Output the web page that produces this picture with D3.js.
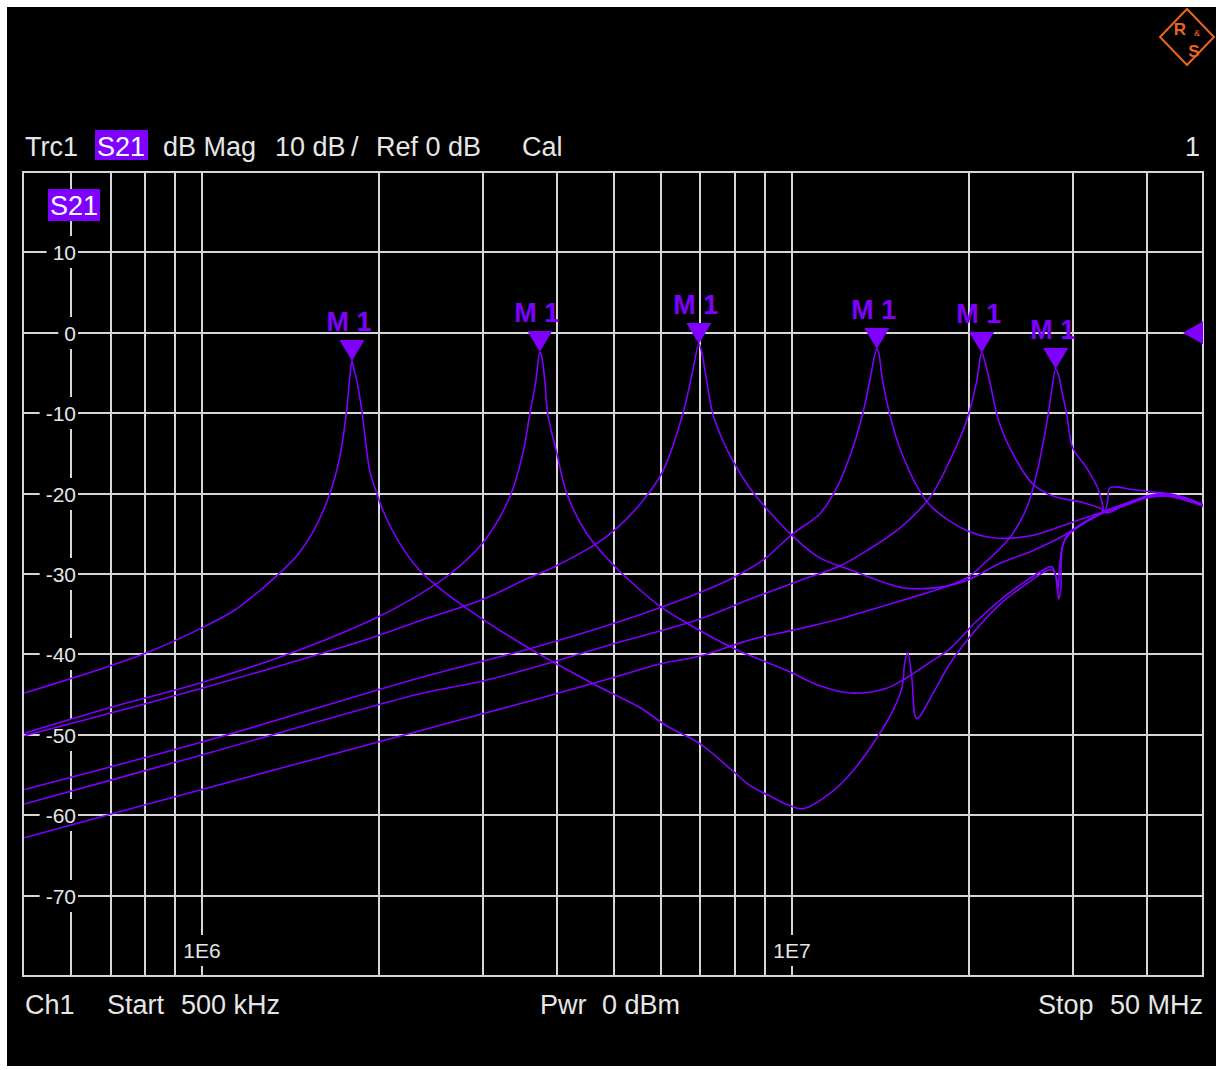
<!DOCTYPE html>
<html lang="en">
<head>
<meta charset="UTF-8">
<title>Trc1 S21 dB Mag</title>
<script src="https://d3js.org/d3.v7.min.js"></script>
<style>
  body { margin: 0; background: #fff; }
  svg { display: block; }
  text { font-family: "Liberation Sans", Arial, sans-serif; fill: #e6e6e6; }
</style>
</head>
<body>
<svg id="chart" width="1216" height="1070"></svg>
<script>
// frequencies in MHz, levels in dB
const trace1Freq = [0.5,0.6,0.7,0.8,1.0,1.13,1.2,1.34,1.45,1.542,1.648,1.713,1.761,1.782,1.796,1.81,1.831,1.867,1.926,1.98,2.027,2.165,2.342,2.502,2.96,3.597,3.997,4.673,5.526,6.141,6.985,7.943,8.489,9.286,9.922,10.44,11.74,12.69,13.94,14.84,15.37,15.55,15.73,15.98,16.29,17.34,18.53,20.43,22.51,25.02,27.05,27.7,28.13,28.35,28.57,28.8,29.59,33.27,36.68,39.97,43.2,46.4,50];
const trace1Db = [-44.8,-43.0,-41.4,-39.9,-36.7,-34.6,-33.2,-30.2,-27.7,-24.8,-20.0,-15.4,-9.4,-5.3,-3.5,-4.5,-6.0,-9.7,-17.2,-20.0,-22.1,-26.2,-29.6,-31.5,-35.4,-39.3,-41.2,-43.9,-46.6,-48.9,-51.1,-54.5,-56.3,-57.8,-58.8,-59.2,-57.0,-54.5,-50.4,-47.0,-44.2,-41.0,-39.8,-42.9,-48.0,-44.9,-41.2,-37.1,-33.8,-31.2,-29.6,-29.5,-30.6,-33.1,-32.1,-26.5,-25.0,-22.6,-21.4,-20.4,-20.1,-20.6,-21.5];

const trace2Freq = [0.5,0.7,1.0,1.372,1.98,2.342,2.633,2.995,3.327,3.5,3.597,3.682,3.74,3.77,3.814,3.858,3.997,4.156,4.493,4.914,5.252,5.973,6.637,7.943,9.806,11.16,12.54,14.49,15.66,17.14,18.53,20.43,22.51,25.02,26.84,27.59,28.02,28.24,28.69,29.37,33.27,36.68,39.97,43.2,46.4,50];
const trace2Db = [-49.8,-46.6,-43.5,-40.2,-35.4,-32.5,-30.0,-26.1,-20.4,-15.0,-10.1,-6.0,-2.4,-3.1,-6.0,-10.1,-15.0,-20.0,-25.0,-28.4,-30.5,-34.0,-36.1,-39.2,-42.0,-43.9,-44.8,-44.2,-42.9,-41.0,-39.3,-36.1,-33.3,-30.8,-29.4,-29.1,-30.2,-32.1,-26.9,-25.1,-22.5,-21.3,-20.3,-20.0,-20.5,-21.4];

const trace3Freq = [0.5,0.7,1.0,1.542,1.98,2.342,2.96,3.555,3.935,4.673,5.052,5.59,6.046,6.535,6.795,6.958,7.04,7.15,7.348,7.641,7.943,8.489,9.359,10.32,11.16,12.69,15.43,17.61,19.8,22.51,25.62,28.46,31.13,33.66,36.68,39.97,43.2,46.4,50];
const trace3Db = [-50.1,-47.3,-44.2,-40.2,-37.7,-35.8,-33.3,-30.6,-29.2,-26.2,-24.3,-20.9,-17.2,-10.1,-4.7,-1.4,-2.5,-5.3,-10.1,-13.4,-15.9,-19.3,-23.0,-26.1,-28.0,-29.6,-31.7,-31.7,-30.8,-28.7,-27.1,-25.5,-23.8,-22.4,-21.5,-20.5,-20.3,-20.8,-21.6];

const trace4Freq = [0.5,1.0,2.342,3.597,4.972,5.973,6.985,7.943,9.0,10.04,11.16,11.92,12.69,13.19,13.56,13.94,14.04,14.26,14.66,15.24,16.48,17.34,19.8,21.91,25.62,29.25,33.27,36.68,39.97,43.2,46.4,50];
const trace4Db = [-56.8,-50.9,-42.9,-39.3,-36.2,-34.2,-32.3,-30.5,-28.1,-25.0,-22.5,-19.3,-14.3,-10.1,-6.0,-2.0,-2.5,-6.0,-10.1,-14.3,-19.7,-21.8,-24.6,-25.5,-25.2,-23.8,-22.4,-21.3,-20.4,-20.1,-20.6,-21.5];

const trace5Freq = [0.5,1.0,2.342,2.995,3.997,4.972,5.973,6.985,8.589,10.32,12.06,13.4,15.24,17.14,18.53,19.8,20.59,20.99,21.24,21.65,22.51,24.06,25.62,27.7,31.13,33.27,34.19,36.68,39.97,43.2,46.4,50];
const trace5Db = [-58.6,-52.5,-44.9,-43.3,-40.8,-38.7,-37.1,-35.6,-33.0,-30.8,-29.0,-27.1,-24.3,-20.5,-15.9,-10.9,-6.0,-2.5,-3.5,-6.0,-11.3,-15.9,-18.8,-20.3,-21.1,-21.8,-22.4,-21.4,-20.5,-20.3,-20.8,-21.6];

const trace6Freq = [0.5,1.0,2.342,3.597,4.972,5.973,6.985,8.589,10.32,12.06,13.4,15.85,18.03,19.8,21.4,23.42,25.02,26.02,27.05,27.59,28.02,28.35,28.69,29.25,29.95,31.62,33.01,33.53,33.93,34.33,34.59,35.55,37.84,39.97,43.2,46.4,50];
const trace6Db = [-62.8,-56.8,-49.5,-45.8,-42.9,-41.2,-40.2,-38.1,-36.8,-35.6,-34.6,-33.0,-31.7,-30.5,-28.4,-25.5,-21.8,-17.5,-11.3,-7.2,-4.5,-5.3,-7.2,-10.1,-14.3,-16.8,-19.3,-20.9,-22.3,-20.9,-19.3,-19.2,-19.5,-19.7,-20.0,-20.6,-21.5];

// marker M1 on each sweep
const markerFreq = [1.796, 3.74, 6.958, 13.94, 20.99, 28.02];
const markerDb = [-3.5, -2.4, -1.4, -2.0, -2.5, -4.5];

// grid / ticks
const gridFreq = [0.6,0.7,0.8,0.9,1,2,3,4,5,6,7,8,9,10,20,30,40];
const decadeFreq = [1, 10];
const decadeLabels = ["1E6", "1E7"];
const yTicks = [10, 0, -10, -20, -30, -40, -50, -60, -70];
const refLevel = 0;

const purple = "#7f00ff";
const gridColor = "#d6d6d6";

const svg = d3.select("#chart");
svg.append("rect").attr("x", 7).attr("y", 7).attr("width", 1209).attr("height", 1059).attr("fill", "#000");

const plot = { left: 23, right: 1203, top: 172, bottom: 976 };
const x = d3.scaleLog().domain([0.5, 50]).range([24.4, 1204]);
const y = d3.scaleLinear().domain([-80, 20]).range([plot.bottom, plot.top]);

// grid lines
const grid = svg.append("g").attr("stroke", gridColor).attr("stroke-width", 2);
gridFreq.forEach(f => {
    const xx = Math.round(x(f));
    grid.append("line").attr("x1", xx).attr("x2", xx).attr("y1", plot.top).attr("y2", plot.bottom);
});
yTicks.forEach(v => {
    const yy = Math.round(y(v));
    grid.append("line").attr("x1", plot.left).attr("x2", plot.right).attr("y1", yy).attr("y2", yy);
});
svg.append("rect")
    .attr("x", plot.left).attr("y", plot.top)
    .attr("width", plot.right - plot.left).attr("height", plot.bottom - plot.top)
    .attr("fill", "none").attr("stroke", gridColor).attr("stroke-width", 2);

// labels sit on black patches that cut the grid
const patches = svg.append("g");
const labels = svg.append("g");

yTicks.forEach(v => {
    const yy = Math.round(y(v));
    const t = labels.append("text")
        .attr("x", 76).attr("y", yy + 8)
        .attr("text-anchor", "end")
        .style("font-size", "21px")
        .text(v);
    const bb = t.node().getBBox();
    patches.append("rect")
        .attr("x", bb.x - 6).attr("y", yy - 16)
        .attr("width", 78 - (bb.x - 6)).attr("height", 32)
        .attr("fill", "#000");
});

decadeFreq.forEach((f, i) => {
    const xx = Math.round(x(f));
    const t = labels.append("text")
        .attr("x", xx).attr("y", 958)
        .attr("text-anchor", "middle")
        .style("font-size", "21px")
        .text(decadeLabels[i]);
    const bb = t.node().getBBox();
    patches.append("rect")
        .attr("x", bb.x - 3).attr("y", 935)
        .attr("width", bb.width + 6).attr("height", 31)
        .attr("fill", "#000");
});

// traces
svg.append("clipPath").attr("id", "plotClip")
    .append("rect")
    .attr("x", plot.left).attr("y", plot.top)
    .attr("width", plot.right - plot.left).attr("height", plot.bottom - plot.top);

const traces = [
    [trace1Freq, trace1Db], [trace2Freq, trace2Db], [trace3Freq, trace3Db],
    [trace4Freq, trace4Db], [trace5Freq, trace5Db], [trace6Freq, trace6Db]
];
const line = d3.line()
    .x(d => x(d[0]))
    .y(d => y(d[1]))
    .curve(d3.curveCatmullRom.alpha(0.5));

const traceG = svg.append("g").attr("clip-path", "url(#plotClip)");
traces.forEach(([fr, db]) => {
    traceG.append("path")
        .datum(fr.map((f, i) => [f, db[i]]))
        .attr("d", line)
        .attr("fill", "none")
        .attr("stroke", purple)
        .attr("stroke-width", 1.6)
        .attr("stroke-linejoin", "round");
});

// markers
markerFreq.forEach((f, i) => {
    const ax = x(f), ay = y(markerDb[i]);
    svg.append("polygon")
        .attr("points", [[ax - 12.5, ay - 21], [ax + 12.5, ay - 21], [ax, ay]].map(p => p.join(",")).join(" "))
        .attr("fill", purple);
    svg.append("text")
        .attr("x", ax - 3).attr("y", ay - 30)
        .attr("text-anchor", "middle")
        .style("font-size", "27px").style("font-weight", "bold")
        .style("fill", purple)
        .text("M 1");
});

// reference level arrow on the right edge
const yRef = y(refLevel);
svg.append("polygon")
    .attr("points", `1183,${yRef} 1203,${yRef - 11.5} 1203,${yRef + 11.5}`)
    .attr("fill", purple);

// trace name box inside the grid
svg.append("rect").attr("x", 48).attr("y", 189).attr("width", 52).attr("height", 32).attr("fill", purple);
svg.append("text").attr("x", 50).attr("y", 215).style("font-size", "27px").style("fill", "#fff").text("S21");

// header line
const head = svg.append("g").style("font-size", "27px");
head.append("text").attr("x", 25).attr("y", 156).text("Trc1");
head.append("rect").attr("x", 95).attr("y", 130).attr("width", 53).attr("height", 30).attr("fill", purple);
head.append("text").attr("x", 97).attr("y", 156).style("fill", "#fff").text("S21");
head.append("text").attr("x", 163).attr("y", 156).text("dB Mag");
head.append("text").attr("x", 275).attr("y", 156).text("10 dB");
head.append("text").attr("x", 351).attr("y", 156).text("/");
head.append("text").attr("x", 376).attr("y", 156).text("Ref 0 dB");
head.append("text").attr("x", 522).attr("y", 156).text("Cal");
head.append("text").attr("x", 1200).attr("y", 156).attr("text-anchor", "end").text("1");

// footer line
const foot = svg.append("g").style("font-size", "27px");
foot.append("text").attr("x", 25).attr("y", 1014).text("Ch1");
foot.append("text").attr("x", 107).attr("y", 1014).text("Start");
foot.append("text").attr("x", 181).attr("y", 1014).text("500 kHz");
foot.append("text").attr("x", 540).attr("y", 1014).text("Pwr");
foot.append("text").attr("x", 602).attr("y", 1014).text("0 dBm");
foot.append("text").attr("x", 1038).attr("y", 1014).text("Stop");
foot.append("text").attr("x", 1203).attr("y", 1014).attr("text-anchor", "end").text("50 MHz");

// R&S logo, top right
const orange = "#e8661e";
const logo = svg.append("g").attr("transform", "translate(1187,37)");
logo.append("path").attr("d", "M0,-28 L27,0 L0,28 L-27,0 Z")
    .attr("fill", "none").attr("stroke", orange).attr("stroke-width", 2);
logo.append("text").attr("x", -7).attr("y", -2)
    .style("font-size", "17px").style("font-weight", "bold").style("fill", orange)
    .attr("text-anchor", "middle").text("R");
logo.append("text").attr("x", 10).attr("y", -1)
    .style("font-size", "9px").style("fill", orange)
    .attr("text-anchor", "middle").text("&");
logo.append("text").attr("x", 7).attr("y", 20)
    .style("font-size", "17px").style("font-weight", "bold").style("fill", orange)
    .attr("text-anchor", "middle").text("S");
</script>
</body>
</html>
